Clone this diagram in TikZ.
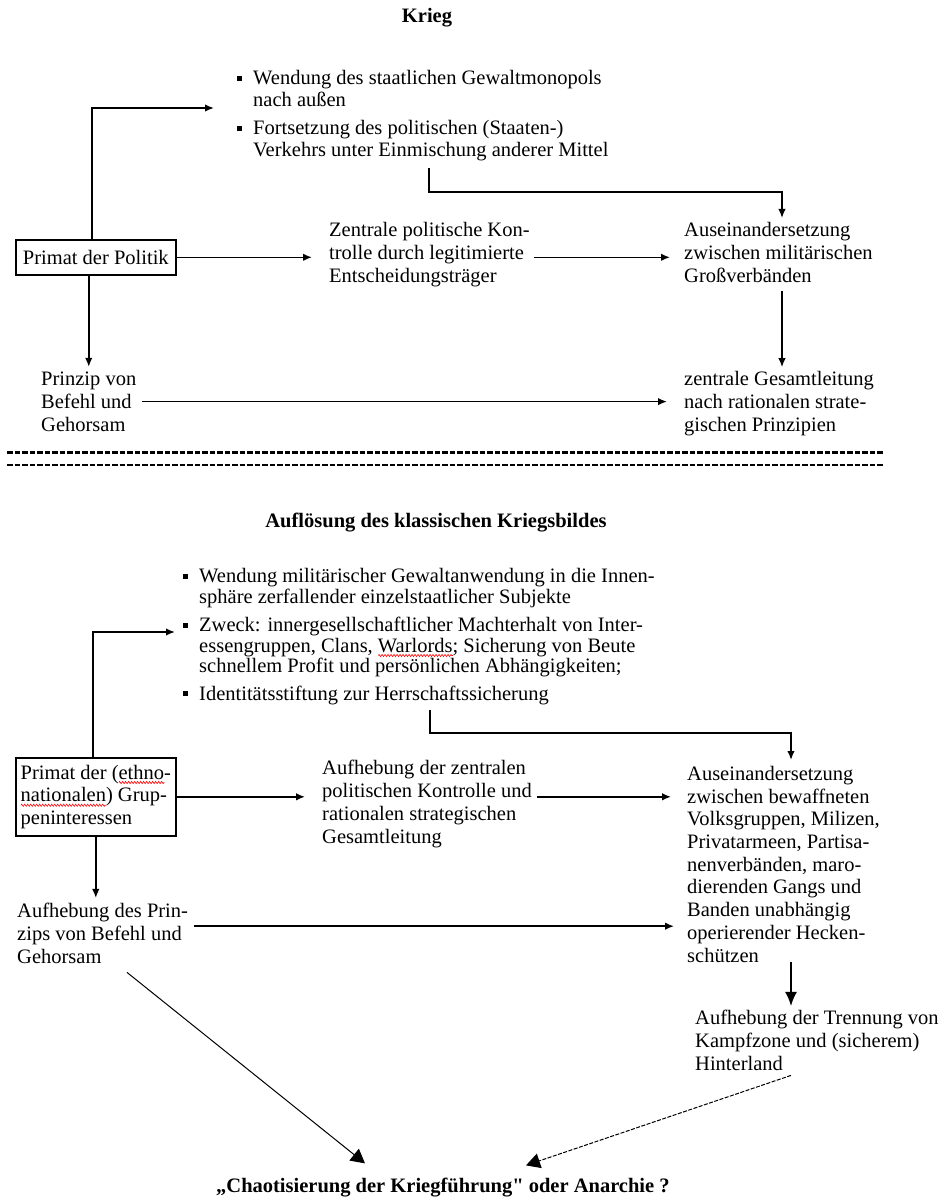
\documentclass[tikz,border=0pt]{standalone}
\usepackage{fontspec}
\setmainfont{Liberation Serif}
\usepackage{xcolor}
\usetikzlibrary{arrows.meta, calc, decorations.pathmorphing, positioning}

% kleines Quadrat als Aufzaehlungszeichen
\newcommand{\sqbul}{\llap{\rule[4pt]{5pt}{5pt}\hspace{11pt}}}
% gerades Anfuehrungszeichen
\newcommand{\geradequote}{{\addfontfeature{Ligatures=TeXOff}"}}
% rote Wellenlinie (Rechtschreibpruefung)
\newsavebox{\wellbox}
\newlength{\wellbreite}
\newcommand{\redwave}[1]{\sbox{\wellbox}{#1}\setlength{\wellbreite}{\wd\wellbox}%
    \rlap{\raisebox{-3.5pt}[0pt][0pt]{%
    \tikz[x=1pt, y=1pt, baseline=0pt]\draw[red, line width=0.6pt, decorate,
        decoration={zigzag, amplitude=1.1pt, segment length=3pt}] (0,0) -- (\wellbreite,0);}}%
    \usebox{\wellbox}}

\tikzset{
    % Textbloecke: Anker auf der Grundlinie der letzten Zeile
    txt/.style={anchor=base west, inner sep=0pt, align=left,
        font=\fontsize{20.5}{22.7}\selectfont},
    titel/.style={anchor=base, inner sep=0pt,
        font=\bfseries\fontsize{20.5}{22.7}\selectfont},
    kasten/.style={draw, line width=1.6pt, anchor=north west, minimum width=160pt,
        font=\fontsize{20.5}{22.7}\selectfont},
    pfeil/.style={->, line width=1.6pt},
    trenner/.style={line width=3pt, dash pattern=on 5.5pt off 2pt}
}

\begin{document}
\begin{tikzpicture}[x=1pt, y=-1pt, >={Latex[length=9pt, width=7.5pt]}]
    \useasboundingbox (0,0) rectangle (938,1198);

    % =================================================================
    % 1. Krieg
    % =================================================================
    \node[titel] (krieg) at (427,23) {Krieg};

    \node[txt, font=\fontsize{20.5}{22}\selectfont] (zweck1) at (253,157)
        {\sqbul Wendung des staatlichen Gewaltmonopols\\
        nach außen\\[6pt]
        \sqbul Fortsetzung des politischen (Staaten-)\\
        Verkehrs unter Einmischung anderer Mittel};

    \node[kasten, minimum height=35pt, inner sep=0pt]
        (primat1) at (15,239) {Primat der Politik};

    \node[txt] (kontrolle) at (329,282) {Zentrale politische Kon-\\
        trolle durch legitimierte\\Entscheidungsträger};
    \node[txt] (ausein1) at (684,282) {Auseinandersetzung\\
        zwischen militärischen\\Großverbänden};
    \node[txt] (prinzip) at (41,431) {Prinzip von\\Befehl und\\Gehorsam};
    \node[txt] (leitung) at (684,431) {zentrale Gesamtleitung\\
        nach rationalen strate-\\gischen Prinzipien};

    % freie Enden der Verbinder
    \coordinate (z1pfeil) at (214,108);
    \coordinate (z1fuss) at (429,168);
    \coordinate (a1kopf) at (782,218);

    \draw[pfeil] (primat1.north -| 92,0) |- (z1pfeil);
    \draw[pfeil] (z1fuss) -- ++(0,24) -| (a1kopf);
    \draw[pfeil, shorten >=17pt] (primat1.east) -- (kontrolle.west |- primat1.east);
    \draw[pfeil, shorten <=4pt, shorten >=14pt]
        (kontrolle.east |- primat1.east) -- (ausein1.west |- primat1.east);
    \draw[pfeil, shorten <=9pt, shorten >=4pt]
        (ausein1.south -| a1kopf) -- (leitung.north -| a1kopf);
    \draw[pfeil, shorten >=5pt] (primat1.south -| prinzip.north) -- (prinzip.north);
    \draw[pfeil, shorten <=6pt, shorten >=17pt] (prinzip.east) -- (leitung.west |- prinzip.east);

    % Trennlinie
    \draw[trenner] (7,452) -- (884,452);
    \draw[trenner, line width=2.5pt] (7,465) -- (884,465);

    % =================================================================
    % 2. Aufloesung des klassischen Kriegsbildes
    % =================================================================
    \node[titel] (aufl) at (436,527) {Auflösung des klassischen Kriegsbildes};

    \node[txt, font=\fontsize{20.5}{20.5}\selectfont] (zweck2) at (199,700)
        {\sqbul Wendung militärischer Gewaltanwendung in die Innen-\\
        sphäre zerfallender einzelstaatlicher Subjekte\\[8pt]
        \sqbul Zweck: innergesellschaftlicher Machterhalt von Inter-\\
        essengruppen, Clans, \redwave{Warlords}; Sicherung von Beute\\
        schnellem Profit und persönlichen Abhängigkeiten;\\[7pt]
        \sqbul Identitätsstiftung zur Herrschaftssicherung};

    \node[kasten, align=left, inner sep=0pt, minimum height=78pt] (primat2) at (15,757)
        {Primat der (\redwave{ethno}-\\\redwave{nationalen}) Grup-\\peninteressen};

    \node[txt] (aufheb1) at (322,843) {Aufhebung der zentralen\\
        politischen Kontrolle und\\rationalen strategischen\\Gesamtleitung};
    \node[txt] (ausein2) at (687,962) {Auseinandersetzung\\
        zwischen bewaffneten\\Volksgruppen, Milizen,\\Privatarmeen, Partisa-\\
        nenverbänden, maro-\\dierenden Gangs und\\Banden unabhängig\\
        operierender Hecken-\\schützen};
    \node[txt] (aufheb2) at (17,963) {Aufhebung des Prin-\\
        zips von Befehl und\\Gehorsam};
    \node[txt] (trennung) at (695,1070) {Aufhebung der Trennung von\\
        Kampfzone und (sicherem)\\Hinterland};
    \node[anchor=base west, inner sep=0pt, font=\bfseries\fontsize{20.5}{22.7}\selectfont]
        (chaos) at (216,1192) {„Chaotisierung der Kriegführung\geradequote{} oder Anarchie ?};

    % freie Enden der Verbinder
    \coordinate (z2pfeil) at (175,632);
    \coordinate (z2fuss) at (430,710);
    \coordinate (a2kopf) at (791,760);
    \coordinate (b2start) at ([yshift=7pt]aufheb2.east);

    \draw[pfeil] (primat2.north -| 93,0) |- (z2pfeil);
    \draw[pfeil] (z2fuss) -- ++(0,23) -| (a2kopf);
    \draw[pfeil, shorten >=17pt] (primat2.east) -- (aufheb1.west |- primat2.east);
    \draw[pfeil, shorten <=5pt, shorten >=16pt]
        (aufheb1.east |- primat2.east) -- (ausein2.west |- primat2.east);
    \draw[pfeil, shorten >=5pt] (primat2.south) -- (primat2.south |- aufheb2.north);
    \draw[pfeil, shorten <=6pt, shorten >=13pt] (b2start) -- (ausein2.west |- b2start);
    \draw[line width=1.8pt, -{Latex[length=14pt, width=12pt]}, shorten >=4pt]
        (ausein2.south -| a2kopf) -- (trennung.north -| a2kopf);
    \draw[line width=1pt, -{Triangle[length=14pt, width=15pt]}]
        ($(aufheb2.south west)+(110,9)$) -- ($(chaos.north west)+(149,-14)$);
    \draw[line width=1pt, dash pattern=on 4pt off 1.5pt, -{Triangle[length=14pt, width=15pt]}]
        ($(trennung.south west)+(96,5)$) -- ($(chaos.north west)+(310,-12)$);
\end{tikzpicture}
\end{document}
